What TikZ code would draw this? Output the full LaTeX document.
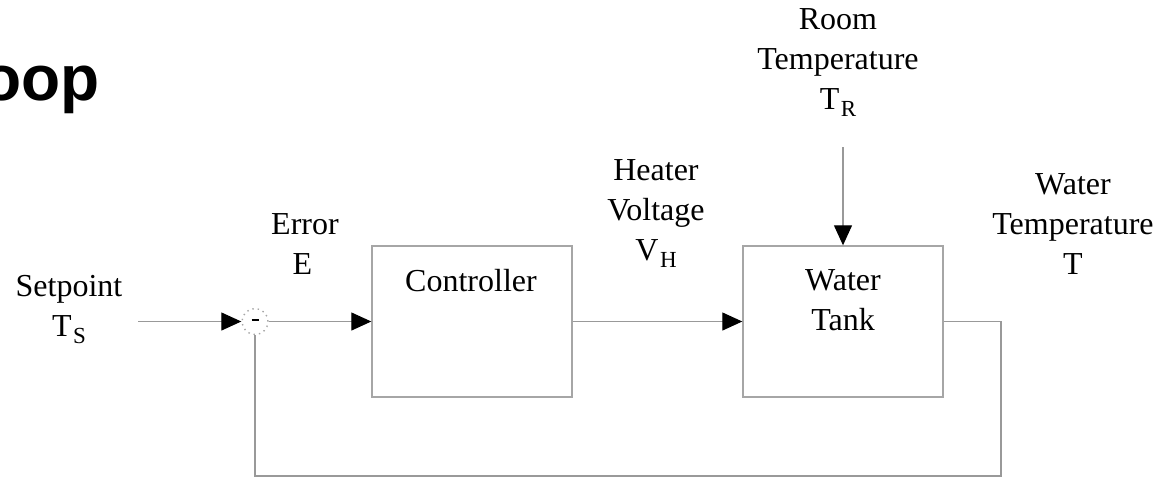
\documentclass[tikz,border=0pt]{standalone}
\usepackage{fontspec}
\setmainfont{Liberation Serif}
\newfontfamily\titlefont{Liberation Sans}
\usetikzlibrary{arrows.meta}
\newcommand\subs[1]{\kern0.8pt\raisebox{-3.5pt}{\fontsize{11.5}{11.5}\selectfont #1}}
\begin{document}
\begin{tikzpicture}[x=0.5pt,y=-0.5pt,
  lbl/.style={align=center, inner sep=0pt, font=\fontsize{16}{20}\selectfont},
  blk/.style={draw=gray!70, line width=0.7pt, minimum width=100pt, minimum height=75.5pt, inner sep=0pt},
  wire/.style={draw=gray!80, line width=0.6pt},
  sig/.style={wire, -{Triangle[length=10pt,width=9pt,color=black]}},
  sumnode/.style={circle, draw=gray!70, dotted, line width=0.7pt, minimum size=13pt, inner sep=0pt}]
\clip (0,0) rectangle (1168,478);
\node[font=\titlefont\bfseries\fontsize{32}{32}\selectfont, anchor=base east, inner sep=0pt] (title) at (100,100) {oop};
% blocks
\node[blk] (ctrl) at (472,321.5) {};
\node[blk] (tank) at (843,321.5) {};
\node[sumnode] (sum) at (255,321.5) {\rule[1.5pt]{3.5pt}{1.3pt}};
% block texts
\node[lbl] (ctrltxt) at (471,281) {Controller};
\node[lbl] (tanktxt) at (843,300) {Water\\Tank};
% signal labels
\node[lbl] (sp) at (69,310) {Setpoint\\T\subs{S}};
\node[lbl] (err) at (305,244) {Error\\E\,};
\node[lbl] (hv) at (656,213.5) {Heater\\Voltage\\V\subs{H}};
\node[lbl] (rt) at (838,63) {Room\\Temperature\\T\subs{R}};
\node[lbl] (wt) at (1073,224) {Water\\Temperature\\T};
% free ends
\coordinate (in) at (138,321.5);
\coordinate (rtin) at (843,147);
\coordinate (fbr) at (1001,476);
% connectors
\draw[sig] (in) -- (sum.west);
\draw[sig] (sum.east) -- (ctrl.west);
\draw[sig] (ctrl.east) -- (tank.west);
\draw[sig] (rtin) -- (tank.north);
\draw[wire] (tank.east) -| (fbr) -| (sum.south);
\end{tikzpicture}
\end{document}
